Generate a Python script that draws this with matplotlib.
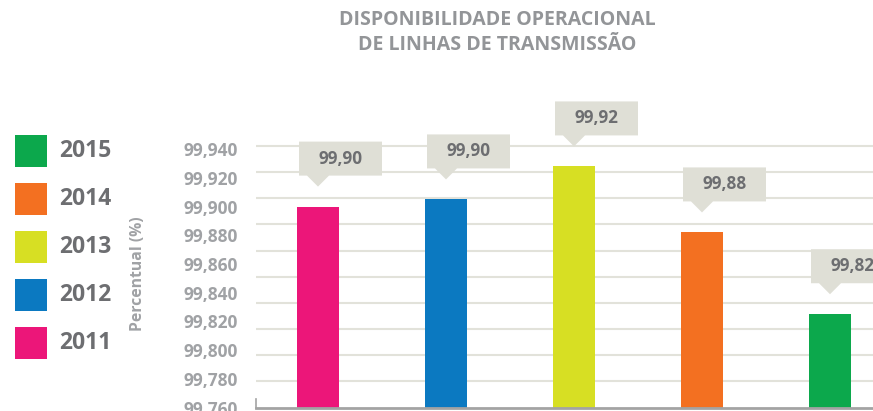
"""Disponibilidade operacional de linhas de transmissao - bar chart."""

import numpy as np
import matplotlib
matplotlib.use('Agg')
import matplotlib.pyplot as plt
import matplotlib.patches as mpatches
import matplotlib.transforms as mtransforms

plt.rcParams['font.family'] = ['Open Sans', 'DejaVu Sans']

# data
years = ['2011', '2012', '2013', '2014', '2015']
values = [99.900, 99.905, 99.928, 99.882, 99.825]
value_labels = ['99,90', '99,90', '99,92', '99,88', '99,82']
colors = ['#ec1679', '#0b79c1', '#d7df23', '#f37021', '#0ca84c']
y_ticks = [99.760, 99.780, 99.800, 99.820, 99.840,
           99.860, 99.880, 99.900, 99.920, 99.940]

TEXT_DARK = '#6d6e71'
TEXT_LIGHT = '#a0a2a5'
CALLOUT = '#dfdfd6'
GRID = '#e2e2da'

W, H = 873, 411
fig = plt.figure(figsize=(W / 100, H / 100), dpi=100)

# axes placed in pixel terms
left, right, bottom, top = 256, 873, 407.5, 90
ax = fig.add_axes([left / W, 1 - bottom / H, (right - left) / W, (bottom - top) / H])

x = np.arange(len(years))
ax.bar(x, values, width=0.33, color=colors, zorder=2, bottom=0)

# y scale: 28.7 px per 0.02
ax.set_ylim(99.76, 99.76 + (bottom - top) * 0.02 / 28.7)
ax.set_xlim(-(318 - left) / 128, 4 + (right - 830) / 128)

ax.set_yticks(y_ticks)
ax.set_yticklabels(['{:.3f}'.format(v).replace('.', ',') for v in y_ticks])
ax.tick_params(axis='y', length=0, pad=13, labelsize=12.5, labelcolor=TEXT_LIGHT)
for lbl in ax.get_yticklabels():
    lbl.set_fontweight('bold')
ax.set_xticks([])

# decorative gridlines (spacing in the original does not follow the labels)
for g in np.linspace(99.76, 99.9422, 11)[1:]:
    ax.axhline(g, color=GRID, lw=1.5, zorder=0)

for side in ['top', 'right']:
    ax.spines[side].set_visible(False)
ax.spines['bottom'].set_color('#a3a3a3')
ax.spines['bottom'].set_linewidth(2)
ax.spines['left'].set_color('#a3a3a3')
ax.spines['left'].set_linewidth(1.2)
ax.spines['left'].set_bounds(99.76, 99.7657)

# callouts above each bar, geometry in pixels relative to bar top
tip, box_h, tri_h, tri_w = 20, 34, 11, 11
bx0, bx1 = -19, 64
shape = np.array([
    [0, tip], [-tri_w, tip + tri_h], [bx0, tip + tri_h], [bx0, tip + tri_h + box_h],
    [bx1, tip + tri_h + box_h], [bx1, tip + tri_h], [tri_w, tip + tri_h],
]) / 100.0
for xi, v, lab in zip(x, values, value_labels):
    trans = fig.dpi_scale_trans + mtransforms.ScaledTranslation(xi, v, ax.transData)
    ax.add_patch(mpatches.Polygon(shape, closed=True, transform=trans,
                                  facecolor=CALLOUT, edgecolor='none',
                                  zorder=3, clip_on=False))
    ax.annotate(lab, xy=(xi, v), xytext=((bx0 + bx1) / 2, tip + tri_h + box_h / 2),
                textcoords='offset pixels', ha='center', va='center',
                fontsize=12.3, fontweight='bold', color=TEXT_DARK,
                zorder=4, annotation_clip=False)

# axis label
fig.text(138 / W, 1 - 274 / H, 'Percentual (%)', rotation=90, ha='center', va='center',
         fontsize=11.3, fontweight='bold', color=TEXT_LIGHT)

# title
fig.text(497 / W, 1 - 32.5 / H, 'DISPONIBILIDADE OPERACIONAL\nDE LINHAS DE TRANSMISSÃO',
         ha='center', va='center', fontsize=14, fontweight='bold',
         color='#939598', linespacing=1.3)

# legend, newest year on top
for k, (yr, c) in enumerate(zip(years[::-1], colors[::-1])):
    y0 = 135 + 48 * k
    fig.add_artist(mpatches.Rectangle((15 / W, 1 - (y0 + 32) / H), 32 / W, 32 / H,
                                      transform=fig.transFigure, facecolor=c,
                                      edgecolor='none'))
    fig.text(59 / W, 1 - (y0 + 16) / H, yr, ha='left', va='center',
             fontsize=16.5, fontweight='bold', color=TEXT_DARK)

plt.savefig('out.png', dpi=100)
